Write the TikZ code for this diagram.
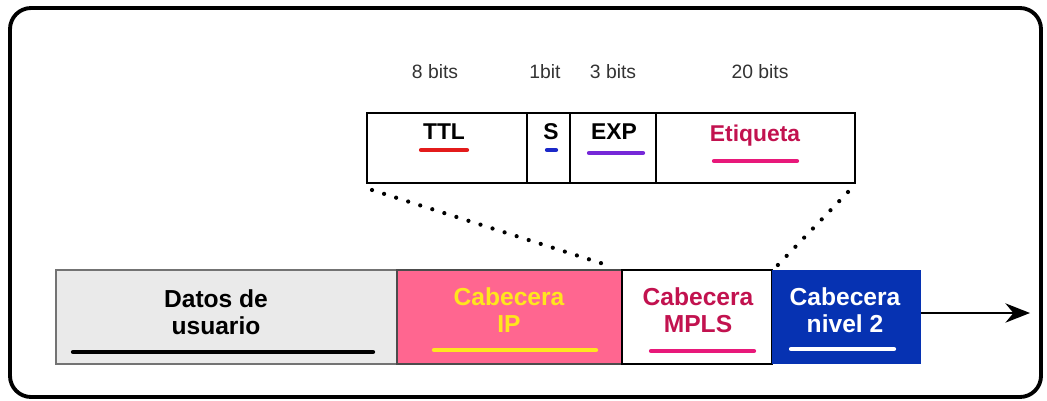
\documentclass[tikz,border=0pt]{standalone}
\usepackage{fontspec}
\setmainfont{Liberation Sans}
\usetikzlibrary{arrows.meta}

\definecolor{ipfill}{HTML}{FF6690}
\definecolor{ipyellow}{HTML}{FFE61E}
\definecolor{lblcrimson}{HTML}{C2124F}
\definecolor{lblpink}{HTML}{E8187A}
\definecolor{l2blue}{HTML}{0632B2}
\definecolor{datagray}{HTML}{EAEAEA}
\definecolor{ttlred}{HTML}{E31B1B}
\definecolor{sblue}{HTML}{1B28C8}
\definecolor{exppurple}{HTML}{7628D8}

\tikzset{
  field/.style={draw,line width=1.6pt,minimum height=1.4cm,inner sep=0pt,outer sep=0pt},
  bits/.style={font=\fontsize{11}{13}\selectfont,text=black!80},
  fieldlbl/.style={font=\fontsize{13}{15}\selectfont\bfseries},
  packet/.style={minimum height=1.88cm,inner sep=0pt,outer sep=0pt},
  pktlbl/.style={font=\fontsize{14}{15.5}\selectfont\bfseries,align=center},
  uline/.style={line width=2.4pt,line cap=round},
  dots/.style={line width=2.4pt,line cap=round,dash pattern=on 0pt off 7.2pt}
}

\begin{document}
\begin{tikzpicture}[x=0.02cm,y=-0.02cm]
      \useasboundingbox (0,0) rectangle (1047,400);
      \draw[line width=2.2pt,rounded corners=12pt] (10,8) rectangle (1041,397);

      % label fields
      \begin{scope}[every node/.style={field}]
        \node[minimum width=3.2cm] (ttl) at (447,148) {};
        \node[minimum width=0.86cm] (sbit) at (548.5,148) {};
        \node[minimum width=1.72cm] (exp) at (613,148) {};
        \node[minimum width=3.98cm] (etiq) at (755.5,148) {};
      \end{scope}
      \begin{scope}[every node/.style={bits}]
        \node (b8) at (435,72) {8 bits};
        \node (b1) at (545,72) {1bit};
        \node (b3) at (613,72) {3 bits};
        \node (b20) at (760,72) {20 bits};
      \end{scope}
      \begin{scope}[every node/.style={fieldlbl}]
        \node (lttl) at (444,132) {TTL};
        \node (ls) at (551,132) {S};
        \node (lexp) at (614,132) {EXP};
        \node[text=lblcrimson] (letiq) at (755,136) {Etiqueta};
      \end{scope}
      \draw[uline,ttlred] (421,150) -- (467,150);
      \draw[uline,sblue] (547,150) -- (556,150);
      \draw[uline,exppurple] (589,153) -- (643,153);
      \draw[uline,lblpink] (714,161) -- (797,161);

      % packet
      \begin{scope}[every node/.style={packet}]
        \node[fill=datagray,draw=black!55,line width=0.8pt,minimum width=6.82cm] (datos) at (226.5,317) {};
        \node[fill=ipfill,draw=black!70,line width=0.8pt,minimum width=4.5cm] (ip) at (509.5,317) {};
        \node[fill=white,draw=black,line width=1.6pt,minimum width=3.0cm] (mpls) at (697,317) {};
        \node[fill=l2blue,minimum width=2.98cm] (niv2) at (846.5,317) {};
      \end{scope}
      \begin{scope}[every node/.style={pktlbl}]
        \node (ldatos) at (216,312) {Datos de\\usuario};
        \node[text=ipyellow] (lip) at (509,310) {Cabecera\\IP};
        \node[text=lblcrimson] (lmpls) at (698,310) {Cabecera\\MPLS};
        \node[text=white] (lniv2) at (845,310) {Cabecera\\nivel 2};
      \end{scope}
      \draw[uline,black] (73,352) -- (373,352);
      \draw[uline,ipyellow] (434,350) -- (596,350);
      \draw[uline,lblpink] (651,351) -- (754,351);
      \draw[uline,white] (791,349) -- (894,349);

      % zoom lines and direction
      \draw[dots] ([shift={(5,7)}]ttl.south west) -- ([shift={(-12,-4)}]mpls.north west);
      \draw[dots] ([shift={(-7,9)}]etiq.south east) -- ([shift={(3,-2)}]mpls.north east);
      \coordinate (out) at (1030,313);
      \draw[line width=1.2pt,-{Stealth[length=14pt,width=11pt]}] (niv2.east |- out) -- (out);
    \end{tikzpicture}
\end{document}
